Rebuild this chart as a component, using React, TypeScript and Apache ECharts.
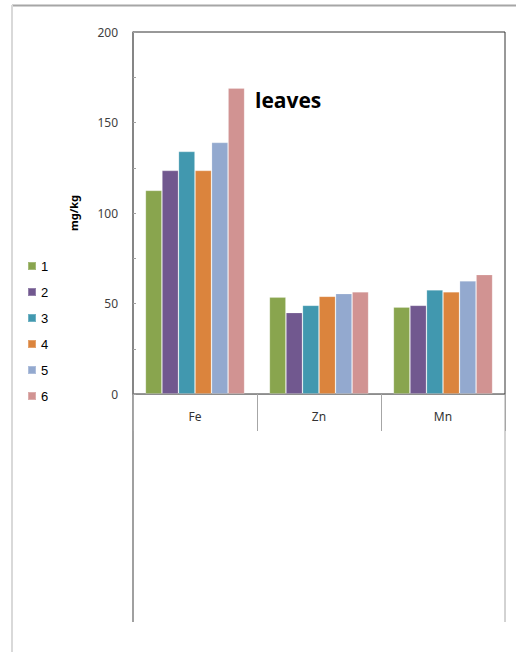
import React, { useEffect, useRef } from "react";
import * as echarts from "echarts";

// Elements measured in leaves (mg/kg) for six treatments
const categories = ["Fe", "Zn", "Mn"];
const seriesNames = ["1", "2", "3", "4", "5", "6"];
const t1 = [112.5, 53.5, 48];
const t2 = [123.5, 45, 49];
const t3 = [134, 49, 57.5];
const t4 = [123.5, 54, 56.5];
const t5 = [139, 55.5, 62.5];
const t6 = [169, 56.5, 66];
const seriesValues = [t1, t2, t3, t4, t5, t6];
const palette = ["#89A54E", "#71588F", "#4198AF", "#DB843D", "#93A9CF", "#D19392"];
const yTicks = { min: 0, max: 200, step: 25, labelStep: 50 };

export default function App() {
  const ref = useRef<HTMLDivElement>(null);

  useEffect(() => {
    if (!ref.current) return;
    const chart = echarts.init(ref.current, undefined, { renderer: "svg" });

    const gridLeft = 133;
    const gridTop = 32;
    const gridW = 372;
    const gridH = 362;
    const axisY = gridTop + gridH;

    chart.setOption({
      animation: false,
      backgroundColor: "#ffffff",
      title: {
        text: "leaves",
        left: 255,
        top: 89,
        padding: 0,
        textStyle: { fontFamily: "Open Sans", fontWeight: "bold", fontSize: 21, color: "#000" },
      },
      legend: {
        orient: "vertical",
        left: 27,
        top: 259,
        padding: 0,
        icon: "rect",
        itemWidth: 8,
        itemHeight: 8,
        itemGap: 12,
        textStyle: { fontFamily: "Liberation Sans", fontSize: 13, color: "#000", lineHeight: 14 },
        data: seriesNames,
      },
      grid: {
        left: gridLeft,
        top: gridTop,
        width: gridW,
        height: gridH,
        show: true,
        borderColor: "#333",
        borderWidth: 1,
        backgroundColor: "transparent",
      },
      xAxis: {
        type: "category",
        data: categories,
        axisLine: { lineStyle: { color: "#8c8c8c", width: 1 } },
        axisTick: { show: true, interval: 0, length: 37, lineStyle: { color: "#a6a6a6" } },
        axisLabel: { margin: 16, fontFamily: "Noto Sans", fontSize: 12, color: "#333" },
        splitLine: { show: false },
      },
      yAxis: {
        type: "value",
        min: yTicks.min,
        max: yTicks.max,
        interval: yTicks.step,
        name: "mg/kg",
        nameLocation: "middle",
        nameRotate: 90,
        nameGap: 54,
        nameTextStyle: { fontFamily: "Noto Sans", fontWeight: "bold", fontSize: 11, color: "#000" },
        axisLine: { show: true, lineStyle: { color: "#808080", width: 1.5 } },
        axisTick: { show: true, inside: true, length: 3, lineStyle: { color: "#a0a0a0" } },
        axisLabel: {
          margin: 15,
          fontFamily: "Noto Sans",
          fontSize: 12,
          color: "#404040",
          formatter: (v: number) => (v % yTicks.labelStep === 0 ? String(v) : ""),
        },
        splitLine: { show: false },
      },
      series: seriesValues.map((vals, i) => ({
        name: seriesNames[i],
        type: "bar",
        data: vals,
        barGap: "0%",
        barCategoryGap: "20%",
        itemStyle: { color: palette[i], borderColor: "rgba(255,255,255,0.25)", borderWidth: 0.8 },
      })),
      graphic: [
        // outer frame
        { type: "line", shape: { x1: 12, y1: 5.5, x2: 516, y2: 5.5 }, style: { stroke: "#a6a6a6", lineWidth: 2 } },
        { type: "line", shape: { x1: 12, y1: 5, x2: 12, y2: 652 }, style: { stroke: "#d9d9d9", lineWidth: 2 } },
        // lower extension of the plot frame
        { type: "line", shape: { x1: gridLeft, y1: axisY, x2: gridLeft, y2: 622 }, style: { stroke: "#808080", lineWidth: 1.5 } },
        { type: "line", shape: { x1: gridLeft + gridW, y1: axisY, x2: gridLeft + gridW, y2: 622 }, style: { stroke: "#a6a6a6", lineWidth: 1 } },
      ],
    });

    return () => chart.dispose();
  }, []);

  return (
    <div
      ref={ref}
      style={{ position: "fixed", left: 0, top: 0, width: 516, height: 652, background: "#fff" }}
    />
  );
}
